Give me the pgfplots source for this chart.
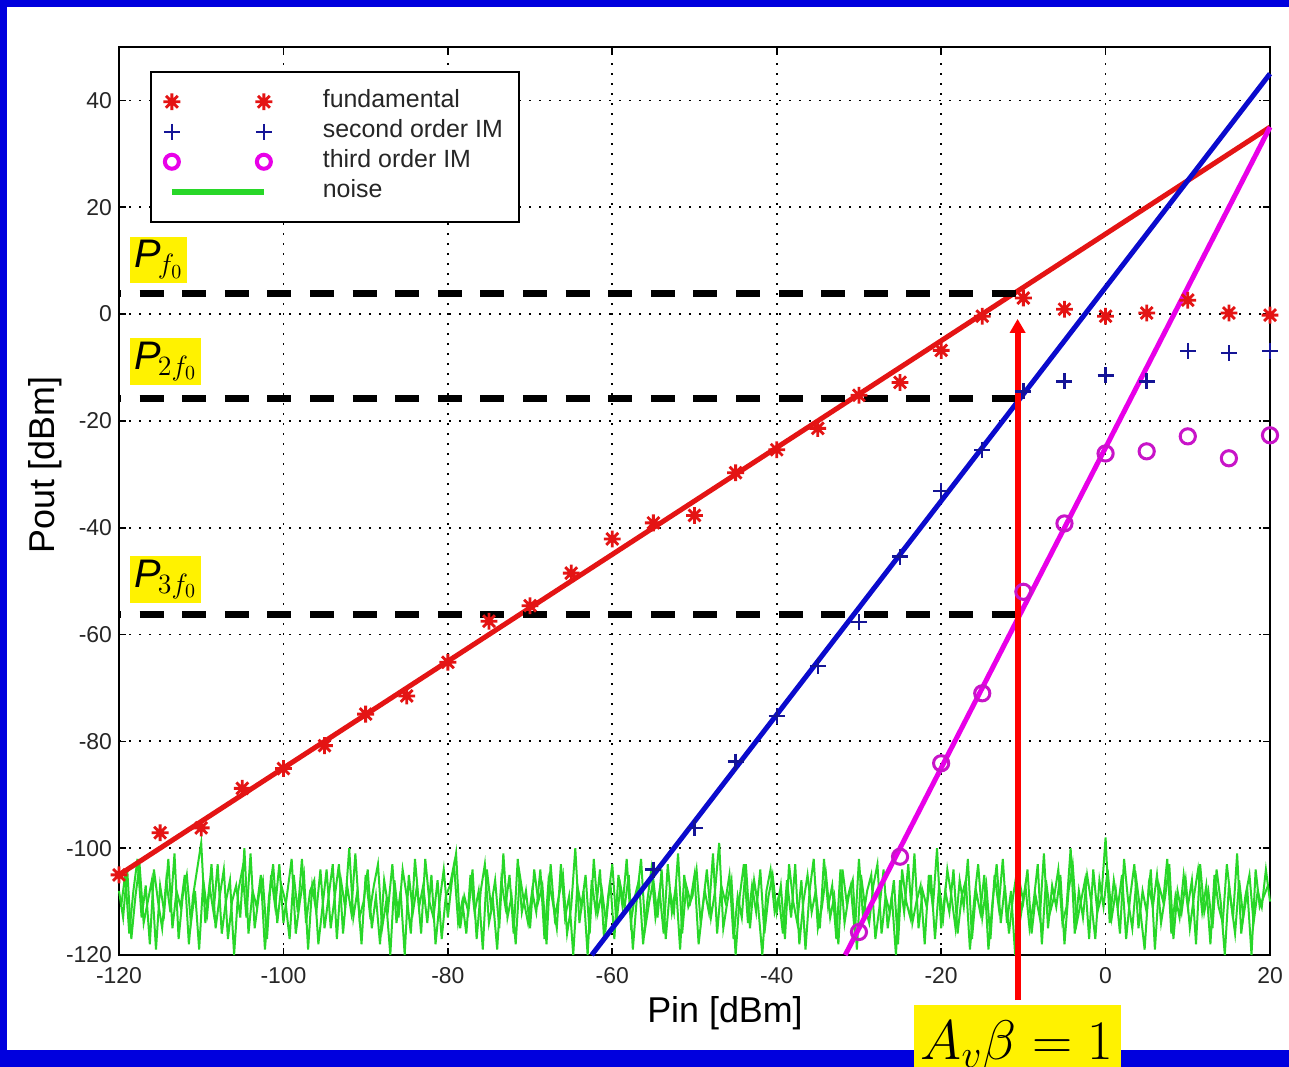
\RequirePackage{fix-cm}
\documentclass[border=0pt]{standalone}
\usepackage{fontspec}
\setmainfont{Liberation Sans}
\usepackage{pgfplots}
\usepackage{pgfplotstable}
\pgfplotsset{compat=1.18}
\usetikzlibrary{arrows.meta}
\definecolor{frameblue}{RGB}{0,0,222}
\definecolor{fred}{RGB}{228,20,20}
\definecolor{fblue}{RGB}{10,10,205}
\definecolor{mblue}{RGB}{20,20,150}
\definecolor{fmag}{RGB}{232,0,232}
\definecolor{mmag}{RGB}{200,20,200}
\definecolor{ngreen}{RGB}{40,215,40}
\pgfdeclareplotmark{mast}{%
 \pgfpathmoveto{\pgfqpoint{-\pgfplotmarksize}{0pt}}\pgfpathlineto{\pgfqpoint{\pgfplotmarksize}{0pt}}%
 \pgfpathmoveto{\pgfqpoint{0pt}{-\pgfplotmarksize}}\pgfpathlineto{\pgfqpoint{0pt}{\pgfplotmarksize}}%
 \pgfpathmoveto{\pgfqpoint{-0.707\pgfplotmarksize}{-0.707\pgfplotmarksize}}\pgfpathlineto{\pgfqpoint{0.707\pgfplotmarksize}{0.707\pgfplotmarksize}}%
 \pgfpathmoveto{\pgfqpoint{-0.707\pgfplotmarksize}{0.707\pgfplotmarksize}}\pgfpathlineto{\pgfqpoint{0.707\pgfplotmarksize}{-0.707\pgfplotmarksize}}%
 \pgfusepathqstroke}
\pgfplotstableread[row sep=\\]{
y\\
-108\\ -113\\ -104\\ -117\\ -109\\ -103\\ -114\\ -110\\ -106\\ -119\\ -107\\ -112\\ -102\\ -115\\ -108\\ -111\\ -105\\ -118\\ -109\\ -104\\
-99\\ -114\\ -107\\ -112\\ -103\\ -116\\ -110\\ -106\\ -120\\ -108\\ -104\\ -113\\ -101\\ -115\\ -109\\ -106\\ -117\\ -105\\ -111\\ -103\\
-114\\ -108\\ -102\\ -116\\ -110\\ -105\\ -119\\ -107\\ -112\\ -104\\ -115\\ -109\\ -103\\ -117\\ -106\\ -111\\ -100\\ -113\\ -108\\ -118\\
-105\\ -112\\ -107\\ -103\\ -115\\ -110\\ -120\\ -106\\ -113\\ -104\\ -109\\ -116\\ -102\\ -111\\ -107\\ -114\\ -105\\ -118\\ -110\\ -104\\
-113\\ -106\\ -101\\ -115\\ -109\\ -112\\ -104\\ -117\\ -108\\ -103\\ -114\\ -110\\ -119\\ -106\\ -111\\ -105\\ -116\\ -102\\ -112\\ -108\\
-115\\ -104\\ -110\\ -107\\ -118\\ -103\\ -113\\ -109\\ -105\\ -116\\ -111\\ -100\\ -114\\ -108\\ -120\\ -106\\ -112\\ -104\\ -117\\ -109\\
-103\\ -114\\ -107\\ -111\\ -105\\ -119\\ -109\\ -102\\ -115\\ -110\\ -106\\ -113\\ -104\\ -117\\ -108\\ -112\\ -101\\ -116\\ -107\\ -110\\
-105\\ -118\\ -111\\ -104\\ -113\\ -108\\ -99\\ -115\\ -110\\ -106\\ -120\\ -109\\ -103\\ -114\\ -107\\ -112\\ -104\\ -116\\ -109\\ -105\\
-112\\ -107\\ -117\\ -103\\ -110\\ -114\\ -106\\ -119\\ -108\\ -102\\ -115\\ -111\\ -105\\ -113\\ -109\\ -118\\ -104\\ -110\\ -107\\ -116\\
-102\\ -113\\ -108\\ -105\\ -117\\ -111\\ -104\\ -115\\ -109\\ -120\\ -106\\ -112\\ -103\\ -114\\ -110\\ -107\\ -118\\ -105\\ -111\\ -100\\
-115\\ -108\\ -112\\ -104\\ -116\\ -109\\ -106\\ -119\\ -110\\ -103\\ -113\\ -107\\ -117\\ -105\\ -111\\ -102\\ -114\\ -108\\ -120\\ -106\\
-110\\ -104\\ -116\\ -109\\ -113\\ -101\\ -115\\ -107\\ -111\\ -105\\ -118\\ -108\\ -103\\ -114\\ -110\\ -106\\ -117\\ -104\\ -112\\ -109\\
-98\\ -114\\ -106\\ -111\\ -105\\ -117\\ -109\\ -103\\ -115\\ -108\\ -112\\ -104\\ -119\\ -107\\ -110\\ -102\\ -116\\ -109\\ -113\\ -105\\
-111\\ -106\\ -118\\ -103\\ -112\\ -108\\ -115\\ -104\\ -110\\ -120\\ -107\\ -113\\ -101\\ -116\\ -109\\ -105\\ -114\\ -108\\ -111\\ -104\\
-110\\
}\noisetable
\pgfplotstableread[row sep=\\]{
y\\
-111\\ -105\\ -116\\ -108\\ -102\\ -113\\ -107\\ -118\\ -104\\ -110\\ -115\\ -106\\ -112\\ -101\\ -117\\ -109\\ -105\\ -114\\ -108\\ -119\\
-106\\ -112\\ -103\\ -115\\ -109\\ -104\\ -117\\ -110\\ -107\\ -113\\ -100\\ -116\\ -108\\ -111\\ -105\\ -119\\ -109\\ -103\\ -114\\ -107\\
-110\\ -117\\ -105\\ -112\\ -102\\ -114\\ -108\\ -106\\ -118\\ -111\\ -104\\ -115\\ -109\\ -103\\ -116\\ -107\\ -112\\ -101\\ -113\\ -110\\
-104\\ -115\\ -109\\ -118\\ -106\\ -111\\ -103\\ -114\\ -108\\ -120\\ -105\\ -112\\ -107\\ -116\\ -102\\ -110\\ -113\\ -106\\ -117\\ -109\\
-107\\ -103\\ -114\\ -110\\ -116\\ -105\\ -112\\ -108\\ -119\\ -104\\ -111\\ -106\\ -115\\ -101\\ -113\\ -109\\ -118\\ -105\\ -110\\ -114\\
-108\\ -112\\ -104\\ -117\\ -106\\ -110\\ -115\\ -103\\ -113\\ -109\\ -120\\ -107\\ -111\\ -105\\ -116\\ -102\\ -112\\ -108\\ -114\\ -106\\
-117\\ -105\\ -111\\ -102\\ -114\\ -109\\ -106\\ -118\\ -110\\ -104\\ -113\\ -108\\ -116\\ -103\\ -112\\ -107\\ -119\\ -105\\ -111\\ -109\\
-104\\ -114\\ -108\\ -112\\ -101\\ -116\\ -107\\ -110\\ -105\\ -117\\ -109\\ -113\\ -103\\ -115\\ -106\\ -111\\ -120\\ -108\\ -104\\ -112\\
-109\\ -116\\ -106\\ -113\\ -103\\ -118\\ -110\\ -105\\ -112\\ -108\\ -115\\ -102\\ -111\\ -107\\ -117\\ -104\\ -114\\ -109\\ -106\\ -119\\
-105\\ -111\\ -114\\ -107\\ -103\\ -116\\ -109\\ -112\\ -106\\ -118\\ -104\\ -110\\ -113\\ -101\\ -115\\ -108\\ -111\\ -105\\ -117\\ -107\\
-113\\ -104\\ -109\\ -115\\ -106\\ -111\\ -102\\ -117\\ -108\\ -112\\ -105\\ -119\\ -110\\ -103\\ -114\\ -107\\ -116\\ -109\\ -104\\ -112\\
-107\\ -115\\ -110\\ -103\\ -118\\ -106\\ -112\\ -109\\ -104\\ -114\\ -111\\ -100\\ -116\\ -108\\ -113\\ -105\\ -110\\ -117\\ -106\\ -111\\
-104\\ -113\\ -108\\ -116\\ -102\\ -110\\ -115\\ -106\\ -112\\ -119\\ -107\\ -111\\ -105\\ -114\\ -109\\ -103\\ -117\\ -108\\ -112\\ -106\\
-115\\ -109\\ -104\\ -112\\ -107\\ -118\\ -105\\ -111\\ -114\\ -103\\ -110\\ -116\\ -106\\ -113\\ -108\\ -120\\ -104\\ -111\\ -109\\ -107\\
}\noisetableb
\begin{document}
\begin{tikzpicture}
\useasboundingbox (0bp,0bp) rectangle (644.5bp,533.5bp);
\fill[frameblue] (0bp,0bp) rectangle (644.5bp,533.5bp);
\fill[white] (3.5bp,8.5bp) rectangle (650bp,530bp);
\begin{axis}[
  at={(59.5bp,56bp)}, anchor=south west,
  scale only axis, width=575.5bp, height=454bp,
  xmin=-120, xmax=20, ymin=-120, ymax=50,
  xtick={-120,-100,...,20}, ytick={-120,-100,...,40},
  grid=major,
  major grid style={black, line width=0.9bp, dash pattern=on 1.2bp off 3.8bp},
  tick align=inside, major tick length=3.5bp,
  axis line style={line width=1.2bp},
  tick style={black, line width=0.8bp},
  ticklabel style={font=\fontsize{11.5}{13}\selectfont, text=black!85},
  xticklabel style={yshift=-2.5bp},
  /pgf/number format/assume math mode=true,
  xlabel={Pin [dBm]}, ylabel={Pout [dBm]},
  label style={font=\fontsize{18}{20}\selectfont},
  xlabel style={at={(axis description cs:0.5265,-0.0645)}, anchor=center},
  ylabel style={at={(axis description cs:-0.0643,0.5396)}, anchor=center},
  clip=false,
  legend style={at={(axis description cs:0.027,0.9736)}, anchor=north west,
    draw=black, line width=0.8bp, inner xsep=6bp, inner ysep=7.5bp,
    font=\fontsize{12.5}{14}\selectfont, text=black!85,
    row sep=0pt, nodes={inner ysep=1.5bp, text height=9bp, text depth=3bp},
    /tikz/every odd column/.append style={column sep=21bp}},
  legend cell align=left,
]
% noise
\addplot[color=ngreen, line width=1bp, forget plot]
  table[x expr={\coordindex*0.5-120}, y=y] {\noisetable};
\addplot[color=ngreen, line width=1bp, forget plot]
  table[x expr={\coordindex*0.5-119.75}, y=y] {\noisetableb};
% fit lines
\addplot[fred, line width=2.5bp, forget plot] coordinates {(-120,-105) (20,35)};
\addplot[fblue, line width=2.5bp, forget plot] coordinates {(-62.5,-120) (20,45)};
\addplot[fmag, line width=2.5bp, forget plot] coordinates {(-31.667,-120) (20,35)};
% markers
\addplot[only marks, mark=mast, color=fred, mark size=4.2bp, line width=1.4bp, forget plot] coordinates {
(-120,-105) (-115,-97.1) (-110,-96.2) (-105,-88.8) (-100,-85.1) (-95,-80.8) (-90,-74.9)
(-85,-71.5) (-80,-65.2) (-75,-57.5) (-70,-54.6) (-65,-48.5) (-60,-42.1) (-55,-39.1)
(-50,-37.7) (-45,-29.7) (-40,-25.4) (-35,-21.4) (-30,-15.2) (-25,-12.8) (-20,-6.8)
(-15,-0.4) (-10,3.0) (-5,0.9) (0,-0.4) (5,0.2) (10,2.6) (15,0.2) (20,-0.2)};
\addplot[only marks, mark=+, color=mblue, mark size=4bp, line width=1.2bp, forget plot] coordinates {
(-55,-104) (-50,-96.2) (-45,-83.8) (-40,-75.3) (-35,-65.9) (-30,-57.7) (-25,-45.4)
(-20,-33.1) (-15,-25.4) (-10,-14.5) (-5,-12.6) (0,-11.5) (5,-12.6) (10,-6.9) (15,-7.3) (20,-6.9)};
\addplot[only marks, mark=o, color=mmag, mark size=3.8bp, line width=1.5bp, forget plot] coordinates {
(-30,-115.7) (-25,-101.6) (-20,-84.1) (-15,-71.0) (-10,-52.0) (-5,-39.2) (0,-26.1)
(5,-25.7) (10,-22.9) (15,-27.0) (20,-22.7)};
% dashed level lines
\addplot[black, line width=3.5bp, dash pattern=on 12bp off 9.3bp, dash phase=11bp, forget plot] coordinates {(-120,3.8) (-10.7,3.8)};
\addplot[black, line width=3.5bp, dash pattern=on 12bp off 9.3bp, dash phase=11bp, forget plot] coordinates {(-120,-15.8) (-10.7,-15.8)};
\addplot[black, line width=3.5bp, dash pattern=on 12bp off 9.3bp, dash phase=11bp, forget plot] coordinates {(-120,-56.3) (-10.7,-56.3)};
% arrow
\addplot[red, line width=3bp, -{Triangle[length=7bp,width=7.5bp]}, forget plot] coordinates {(-10.7,-128.45) (-10.7,-0.9)};
% legend
\addlegendimage{only marks, mark=mast, color=fred, mark size=4.2bp, line width=1.4bp,
  legend image code/.code={\draw[only marks] plot coordinates {(0bp,0bp) (46bp,0bp)}; \path (-3bp,0bp) (51bp,0bp);}}
\addlegendentry{fundamental}
\addlegendimage{only marks, mark=+, color=mblue, mark size=4bp, line width=1.2bp,
  legend image code/.code={\draw[only marks] plot coordinates {(0bp,0bp) (46bp,0bp)}; \path (-3bp,0bp) (51bp,0bp);}}
\addlegendentry{second order IM}
\addlegendimage{only marks, mark=o, color=fmag, mark size=3.5bp, line width=2bp,
  legend image code/.code={\draw[only marks] plot coordinates {(0bp,0bp) (46bp,0bp)}; \path (-3bp,0bp) (51bp,0bp);}}
\addlegendentry{third order IM}
\addlegendimage{color=ngreen, line width=3bp,
  legend image code/.code={\draw (0bp,0bp) -- (46bp,0bp); \path (-3bp,0bp) (51bp,0bp);}}
\addlegendentry{noise}
\end{axis}
% labels
\node[fill=yellow, inner sep=2bp, anchor=west] at (65bp,403.5bp) {\fontsize{20}{22}\selectfont\itshape P\kern-1.5bp$_{f_0}$};
\node[fill=yellow, inner sep=2bp, anchor=west] at (65bp,352.75bp) {\fontsize{20}{22}\selectfont\itshape P\kern-1.5bp$_{2f_0}$};
\node[fill=yellow, inner sep=2bp, anchor=west] at (65bp,243.75bp) {\fontsize{20}{22}\selectfont\itshape P\kern-1.5bp$_{3f_0}$};
\begin{scope}
\clip (0bp,0bp) rectangle (644.5bp,533.5bp);
\node[fill=yellow, anchor=north, minimum width=103.5bp, minimum height=40bp, inner sep=3bp] at (508.5bp,31bp) {\fontsize{28}{30}\selectfont $A_v\beta = 1$};
\end{scope}
\end{tikzpicture}
\end{document}
